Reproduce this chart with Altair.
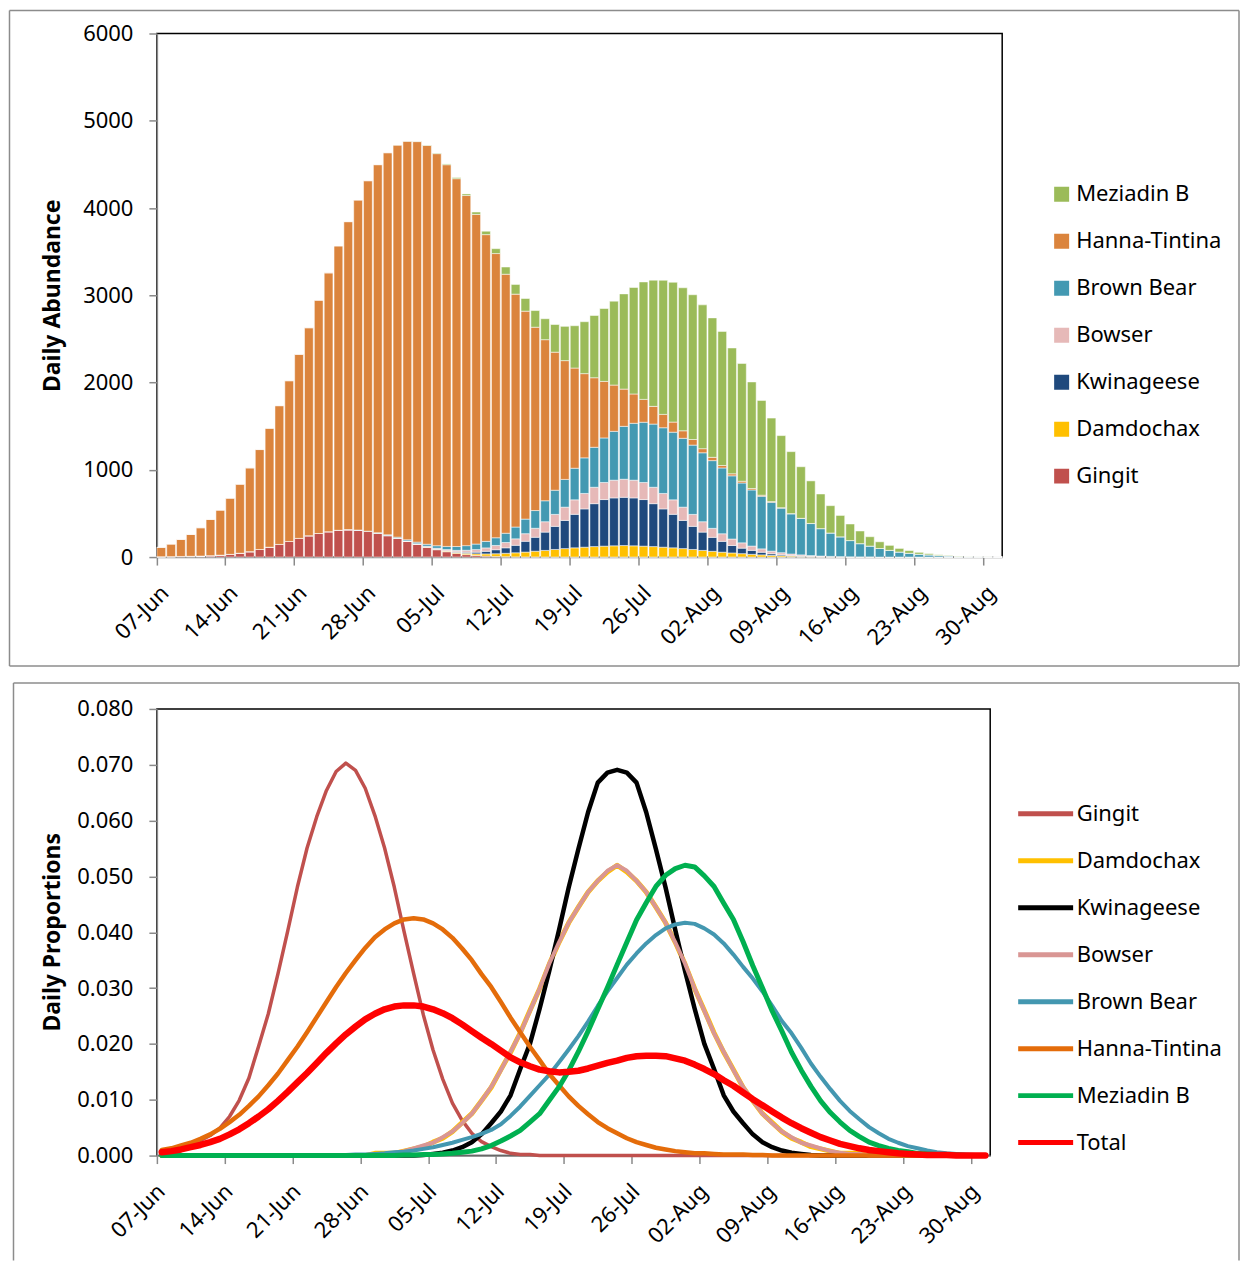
import json
import altair as alt
import pandas as pd

# ---------------- categories / tick labels ----------------
DAYS = list(range(86))  # day 0 = 07-Jun ... day 85 = 31-Aug
TICK_DAYS = [0, 7, 14, 21, 28, 35, 42, 49, 56, 63, 70, 77, 84]
TICK_LABELS = ["07-Jun", "14-Jun", "21-Jun", "28-Jun", "05-Jul", "12-Jul", "19-Jul",
               "26-Jul", "02-Aug", "09-Aug", "16-Aug", "23-Aug", "30-Aug"]

# ---------------- daily abundance (top chart) ----------------
GINGIT = [4, 5, 7, 9, 12, 16, 22, 31, 44, 62,
          87, 113, 145, 179, 214, 245, 270, 291, 306, 313,
          307, 293, 271, 245, 214, 179, 145, 112, 84, 61,
          42, 28, 18, 11, 7, 4, 2, 1, 1, 0,
          0, 0, 0, 0, 0, 0, 0, 0, 0, 0,
          0, 0, 0, 0, 0, 0, 0, 0, 0, 0,
          0, 0, 0, 0, 0, 0, 0, 0, 0, 0,
          0, 0, 0, 0, 0, 0, 0, 0, 0, 0,
          0, 0, 0, 0, 0, 0]
DAMDOCHAX = [0, 0, 0, 0, 0, 0, 0, 0, 0, 0,
             0, 0, 0, 0, 0, 0, 0, 0, 0, 0,
             0, 0, 1, 1, 1, 2, 3, 4, 6, 8,
             11, 15, 19, 25, 31, 39, 47, 56, 66, 76,
             87, 97, 106, 113, 120, 125, 129, 132, 129, 125,
             120, 113, 106, 97, 87, 76, 66, 56, 47, 39,
             31, 25, 19, 15, 11, 8, 6, 4, 3, 2,
             1, 1, 1, 0, 0, 0, 0, 0, 0, 0,
             0, 0, 0, 0, 0, 0]
KWINAGEESE = [0, 0, 0, 0, 0, 0, 0, 0, 0, 0,
              0, 0, 0, 0, 0, 0, 0, 0, 0, 0,
              0, 0, 0, 0, 0, 0, 0, 1, 2, 4,
              7, 12, 19, 30, 46, 63, 86, 124, 160, 210,
              265, 323, 384, 439, 492, 534, 549, 553, 549, 534,
              492, 439, 384, 323, 265, 210, 160, 124, 86, 63,
              46, 30, 19, 12, 7, 4, 2, 1, 0, 0,
              0, 0, 0, 0, 0, 0, 0, 0, 0, 0,
              0, 0, 0, 0, 0, 0]
BOWSER = [0, 0, 0, 0, 0, 0, 0, 0, 0, 0,
          0, 0, 0, 0, 0, 0, 0, 0, 0, 0,
          0, 0, 1, 1, 2, 3, 5, 7, 9, 13,
          17, 23, 30, 39, 49, 61, 74, 87, 103, 119,
          137, 152, 166, 177, 188, 196, 203, 207, 203, 196,
          188, 177, 166, 152, 137, 119, 103, 87, 74, 61,
          49, 39, 30, 23, 17, 13, 9, 7, 5, 3,
          2, 1, 1, 0, 0, 0, 0, 0, 0, 0,
          0, 0, 0, 0, 0, 0]
BROWN_BEAR = [0, 0, 0, 0, 0, 0, 0, 0, 0, 0,
              0, 0, 0, 0, 0, 0, 0, 0, 1, 2,
              3, 4, 6, 8, 11, 14, 18, 23, 29, 36,
              44, 53, 63, 75, 88, 106, 135, 167, 203, 240,
              277, 318, 362, 408, 458, 510, 560, 606, 652, 690,
              724, 753, 775, 789, 794, 790, 776, 754, 724, 686,
              643, 603, 560, 511, 460, 417, 367, 314, 268, 227,
              186, 152, 124, 98, 77, 58, 44, 33, 25, 17,
              12, 8, 6, 4, 2, 1]
HANNA_TINTINA = [107, 144, 195, 250, 324, 415, 516, 644, 791, 960,
                 1145, 1363, 1590, 1842, 2109, 2383, 2674, 2966, 3259, 3529,
                 3782, 4016, 4218, 4379, 4493, 4567, 4590, 4570, 4493, 4374,
                 4215, 4012, 3778, 3515, 3257, 2968, 2669, 2383, 2101, 1846,
                 1582, 1361, 1148, 965, 797, 648, 530, 427, 336, 262,
                 203, 153, 116, 86, 64, 47, 38, 28, 23, 20,
                 17, 12, 8, 5, 3, 2, 1, 0, 0, 0,
                 0, 0, 0, 0, 0, 0, 0, 0, 0, 0,
                 0, 0, 0, 0, 0, 0]
MEZIADIN_B = [0, 0, 0, 0, 0, 0, 0, 0, 0, 0,
              0, 0, 0, 0, 0, 0, 0, 0, 0, 0,
              0, 0, 0, 0, 1, 2, 3, 5, 7, 9,
              13, 18, 27, 39, 56, 83, 111, 145, 191, 240,
              317, 393, 485, 595, 713, 835, 961, 1091, 1220, 1346,
              1446, 1537, 1602, 1639, 1659, 1648, 1598, 1537, 1442, 1350,
              1221, 1086, 957, 826, 710, 591, 488, 397, 313, 245,
              190, 145, 107, 77, 57, 41, 30, 21, 14, 9,
              6, 4, 2, 1, 1, 0]

# ---------------- daily proportions (bottom chart) ----------------
P_GINGIT = [0.0009, 0.0011, 0.0016, 0.0020, 0.0027, 0.0036, 0.0049, 0.0070, 0.0099, 0.0139,
            0.0196, 0.0254, 0.0326, 0.0402, 0.0481, 0.0551, 0.0607, 0.0654, 0.0688, 0.0703,
            0.0690, 0.0658, 0.0609, 0.0551, 0.0481, 0.0402, 0.0326, 0.0252, 0.0189, 0.0137,
            0.0094, 0.0063, 0.0040, 0.0025, 0.0016, 0.0009, 0.0004, 0.0002, 0.0002, 0.0,
            0, 0, 0, 0, 0, 0, 0, 0, 0, 0,
            0, 0, 0, 0, 0, 0, 0, 0, 0, 0,
            0, 0, 0, 0, 0, 0, 0, 0, 0, 0,
            0, 0, 0, 0, 0, 0, 0, 0, 0, 0,
            0, 0, 0, 0, 0, 0]
P_DAMDOCHAX = [0, 0, 0, 0, 0, 0, 0, 0, 0, 0,
               0, 0, 0, 0, 0, 0, 0, 0, 0, 0,
               0, 0, 0.0004, 0.0004, 0.0004, 0.0008, 0.0012, 0.0016, 0.0024, 0.0031,
               0.0043, 0.0059, 0.0075, 0.0098, 0.0122, 0.0154, 0.0185, 0.0220, 0.0260, 0.0299,
               0.0343, 0.0382, 0.0417, 0.0445, 0.0472, 0.0492, 0.0508, 0.0520, 0.0508, 0.0492,
               0.0472, 0.0445, 0.0417, 0.0382, 0.0343, 0.0299, 0.0260, 0.0220, 0.0185, 0.0154,
               0.0122, 0.0098, 0.0075, 0.0059, 0.0043, 0.0031, 0.0024, 0.0016, 0.0012, 0.0008,
               0.0004, 0.0004, 0.0004, 0, 0, 0, 0, 0, 0, 0,
               0, 0, 0, 0, 0, 0]
P_KWINAGEESE = [0, 0, 0, 0, 0, 0, 0, 0, 0, 0,
                0, 0, 0, 0, 0, 0, 0, 0, 0, 0,
                0, 0, 0, 0, 0, 0, 0, 0.0001, 0.0003, 0.0005,
                0.0009, 0.0015, 0.0024, 0.0038, 0.0058, 0.0079, 0.0108, 0.0155, 0.0200, 0.0263,
                0.0331, 0.0404, 0.0480, 0.0549, 0.0615, 0.0668, 0.0686, 0.0691, 0.0686, 0.0668,
                0.0615, 0.0549, 0.0480, 0.0404, 0.0331, 0.0263, 0.0200, 0.0155, 0.0108, 0.0079,
                0.0058, 0.0038, 0.0024, 0.0015, 0.0009, 0.0005, 0.0003, 0.0001, 0, 0,
                0, 0, 0, 0, 0, 0, 0, 0, 0, 0,
                0, 0, 0, 0, 0, 0]
P_BOWSER = [0, 0, 0, 0, 0, 0, 0, 0, 0, 0,
            0, 0, 0, 0, 0, 0, 0, 0, 0, 0,
            0, 0, 0.0003, 0.0003, 0.0005, 0.0008, 0.0013, 0.0018, 0.0023, 0.0033,
            0.0043, 0.0058, 0.0075, 0.0098, 0.0123, 0.0153, 0.0186, 0.0219, 0.0259, 0.0299,
            0.0344, 0.0382, 0.0417, 0.0445, 0.0472, 0.0492, 0.0510, 0.0520, 0.0510, 0.0492,
            0.0472, 0.0445, 0.0417, 0.0382, 0.0344, 0.0299, 0.0259, 0.0219, 0.0186, 0.0153,
            0.0123, 0.0098, 0.0075, 0.0058, 0.0043, 0.0033, 0.0023, 0.0018, 0.0013, 0.0008,
            0.0005, 0.0003, 0.0003, 0, 0, 0, 0, 0, 0, 0,
            0, 0, 0, 0, 0, 0]
P_BROWN_BEAR = [0, 0, 0, 0, 0, 0, 0, 0, 0, 0,
                0, 0, 0, 0, 0, 0, 0, 0, 0.0001, 0.0001,
                0.0002, 0.0002, 0.0003, 0.0004, 0.0006, 0.0007, 0.0009, 0.0012, 0.0015, 0.0019,
                0.0023, 0.0028, 0.0033, 0.0039, 0.0046, 0.0056, 0.0071, 0.0088, 0.0107, 0.0126,
                0.0145, 0.0167, 0.0190, 0.0214, 0.0240, 0.0268, 0.0294, 0.0318, 0.0342, 0.0362,
                0.0380, 0.0395, 0.0407, 0.0414, 0.0417, 0.0415, 0.0407, 0.0396, 0.0380, 0.0360,
                0.0338, 0.0317, 0.0294, 0.0268, 0.0241, 0.0219, 0.0193, 0.0165, 0.0141, 0.0119,
                0.0098, 0.0080, 0.0065, 0.0051, 0.0040, 0.0030, 0.0023, 0.0017, 0.0013, 0.0009,
                0.0006, 0.0004, 0.0003, 0.0002, 0.0001, 0.0001]
P_HANNA_TINTINA = [0.0010, 0.0013, 0.0018, 0.0023, 0.0030, 0.0038, 0.0048, 0.0060, 0.0073, 0.0089,
                   0.0106, 0.0126, 0.0147, 0.0171, 0.0195, 0.0221, 0.0248, 0.0275, 0.0302, 0.0327,
                   0.0350, 0.0372, 0.0391, 0.0405, 0.0416, 0.0423, 0.0425, 0.0423, 0.0416, 0.0405,
                   0.0390, 0.0371, 0.0350, 0.0325, 0.0302, 0.0275, 0.0247, 0.0221, 0.0195, 0.0171,
                   0.0146, 0.0126, 0.0106, 0.0089, 0.0074, 0.0060, 0.0049, 0.0040, 0.0031, 0.0024,
                   0.0019, 0.0014, 0.0011, 0.0008, 0.0006, 0.0004, 0.0004, 0.0003, 0.0002, 0.0002,
                   0.0002, 0.0001, 0.0001, 0, 0, 0, 0, 0, 0, 0,
                   0, 0, 0, 0, 0, 0, 0, 0, 0, 0,
                   0, 0, 0, 0, 0, 0]
P_MEZIADIN_B = [0, 0, 0, 0, 0, 0, 0, 0, 0, 0,
                0, 0, 0, 0, 0, 0, 0, 0, 0, 0,
                0, 0, 0, 0, 0.0000, 0.0001, 0.0001, 0.0002, 0.0002, 0.0003,
                0.0004, 0.0006, 0.0008, 0.0012, 0.0018, 0.0026, 0.0035, 0.0045, 0.0060, 0.0075,
                0.0099, 0.0123, 0.0152, 0.0186, 0.0223, 0.0262, 0.0301, 0.0342, 0.0382, 0.0422,
                0.0453, 0.0482, 0.0502, 0.0514, 0.0520, 0.0517, 0.0501, 0.0482, 0.0452, 0.0423,
                0.0383, 0.0340, 0.0300, 0.0259, 0.0223, 0.0185, 0.0153, 0.0124, 0.0098, 0.0077,
                0.0060, 0.0045, 0.0034, 0.0024, 0.0018, 0.0013, 0.0009, 0.0007, 0.0004, 0.0003,
                0.0002, 0.0001, 0.0001, 0, 0, 0]
P_TOTAL = [0.0006, 0.0008, 0.0011, 0.0015, 0.0019, 0.0024, 0.0030, 0.0038, 0.0047, 0.0058,
           0.0070, 0.0083, 0.0098, 0.0114, 0.0131, 0.0148, 0.0166, 0.0184, 0.0201, 0.0217,
           0.0231, 0.0244, 0.0254, 0.0262, 0.0267, 0.0269, 0.0269, 0.0267, 0.0262, 0.0255,
           0.0246, 0.0235, 0.0223, 0.0211, 0.0200, 0.0188, 0.0176, 0.0167, 0.0160, 0.0154,
           0.0151, 0.0149, 0.0150, 0.0152, 0.0156, 0.0161, 0.0166, 0.0170, 0.0175, 0.0178,
           0.0179, 0.0179, 0.0178, 0.0174, 0.0170, 0.0163, 0.0155, 0.0146, 0.0135, 0.0125,
           0.0113, 0.0101, 0.0090, 0.0079, 0.0068, 0.0058, 0.0049, 0.0041, 0.0033, 0.0027,
           0.0021, 0.0017, 0.0013, 0.0010, 0.0008, 0.0006, 0.0004, 0.0003, 0.0002, 0.0001,
           0.0001, 0.0001, 0, 0, 0, 0]

# ---------------- series names / colours ----------------
STOCKS = ["Gingit", "Damdochax", "Kwinageese", "Bowser", "Brown Bear", "Hanna-Tintina", "Meziadin B"]
ABUNDANCE = [GINGIT, DAMDOCHAX, KWINAGEESE, BOWSER, BROWN_BEAR, HANNA_TINTINA, MEZIADIN_B]
TOP_ORDER = ["Meziadin B", "Hanna-Tintina", "Brown Bear", "Bowser", "Kwinageese", "Damdochax", "Gingit"]
TOP_COLORS = ["#9BBB59", "#DB843D", "#4399B2", "#E6B9B8", "#1F497D", "#FFC000", "#C0504D"]

LINE_SERIES = ["Gingit", "Damdochax", "Kwinageese", "Bowser", "Brown Bear", "Hanna-Tintina", "Meziadin B", "Total"]
PROPORTIONS = [P_GINGIT, P_DAMDOCHAX, P_KWINAGEESE, P_BOWSER, P_BROWN_BEAR, P_HANNA_TINTINA, P_MEZIADIN_B, P_TOTAL]
LINE_COLORS = ["#C0504D", "#FFC000", "#000000", "#D99694", "#4397B0", "#E46C0A", "#00B050", "#FF0000"]
LINE_WIDTHS = [3.5, 5, 4.5, 4, 4, 4.5, 5, 6.5]

FONT = "Noto Sans"
BORDER = "#8C8C8C"
LABEL_EXPR = json.dumps(TICK_LABELS) + "[round(datum.value / 7)]"

top_df = pd.DataFrame([
    {"day": d, "stock": s, "abundance": v, "stack_rank": i}
    for i, (s, vals) in enumerate(zip(STOCKS, ABUNDANCE))
    for d, v in zip(DAYS, vals)
])
bot_df = pd.DataFrame([
    {"day": d, "series": s, "prop": v}
    for s, vals in zip(LINE_SERIES, PROPORTIONS)
    for d, v in zip(DAYS, vals)
])
one = pd.DataFrame({"k": [0]})


def vrule(x, y1, y2):
    return alt.Chart(one).mark_rule(color=BORDER, strokeWidth=1.5).encode(
        x=alt.value(x), y=alt.value(y1), y2=alt.value(y2))


def hrule(x1, x2, y):
    return alt.Chart(one).mark_rule(color=BORDER, strokeWidth=1.5).encode(
        x=alt.value(x1), x2=alt.value(x2), y=alt.value(y))


x_axis_common = dict(values=TICK_DAYS, labelExpr=LABEL_EXPR, labelAngle=-45, labelAlign="right",
                     labelBaseline="middle", labelPadding=24, labelOffset=4,
                     labelOverlap=False, labelFlush=False, tickSize=8)

# ---------------- top: stacked bars ----------------
bars = alt.Chart(top_df).mark_bar(stroke="#FFFFFF", strokeWidth=0.6, strokeOpacity=0.85).encode(
    x=alt.X("day:O", title=None,
            scale=alt.Scale(paddingInner=0.11, paddingOuter=0),
            axis=alt.Axis(bandPosition=0, **x_axis_common)),
    y=alt.Y("abundance:Q", stack="zero",
            scale=alt.Scale(domain=[0, 6000], nice=False),
            axis=alt.Axis(values=[0, 1000, 2000, 3000, 4000, 5000, 6000], format="d",
                          title="Daily Abundance", titleX=-104, titleY=262,
                          titleAlign="center", titleBaseline="middle",
                          labelPadding=16, tickSize=8)),
    color=alt.Color("stock:N", scale=alt.Scale(domain=TOP_ORDER, range=TOP_COLORS),
                    legend=alt.Legend(title=None, orient="none", legendX=894.5, legendY=150,
                                      symbolType="square", symbolSize=225, symbolStrokeWidth=0,
                                      labelOffset=3.5, rowPadding=25, padding=0, clipHeight=22,
                                      labelLimit=400)),
    order=alt.Order("stack_rank:Q", sort="ascending"),
)

top = alt.layer(
    bars,
    vrule(-147.5, -23, 633), vrule(1083, -23, 633),
    hrule(-147.5, 1083, -23), hrule(-147.5, 1083, 633),
).properties(width=846, height=524)

# ---------------- bottom: proportion lines ----------------
base = alt.Chart(bot_df).transform_calculate(xmid="datum.day + 0.5").encode(
    x=alt.X("xmid:Q", title=None,
            scale=alt.Scale(domain=[0, 86], nice=False, zero=False),
            axis=alt.Axis(**x_axis_common)),
    y=alt.Y("prop:Q", scale=alt.Scale(domain=[0, 0.08], nice=False),
            axis=alt.Axis(values=[0, 0.01, 0.02, 0.03, 0.04, 0.05, 0.06, 0.07, 0.08], format=".3f",
                          title="Daily Proportions", titleX=-104, titleY=223,
                          titleAlign="center", titleBaseline="middle",
                          labelPadding=16, tickSize=8)),
    color=alt.Color("series:N", scale=alt.Scale(domain=LINE_SERIES, range=LINE_COLORS),
                    legend=alt.Legend(title=None, orient="none", legendX=859.5, legendY=94,
                                      symbolType="stroke", symbolSize=3025, symbolStrokeWidth=5,
                                      labelOffset=1, rowPadding=25, padding=0, clipHeight=22,
                                      labelLimit=400)),
)

line_layers = [
    base.transform_filter(alt.datum.series == s).mark_line(
        strokeWidth=w, strokeCap="round", strokeJoin="round")
    for s, w in zip(LINE_SERIES, LINE_WIDTHS)
]

bottom = alt.layer(
    *line_layers,
    vrule(-143.5, -26, 552), vrule(1083, -26, 552),
    hrule(-143.5, 1083, -26),
).properties(width=834, height=447)

chart = alt.vconcat(top, bottom, spacing=152, bounds="flush").resolve_scale(
    color="independent", x="independent", y="independent"
).properties(
    padding=0, background="white"
).configure(
    font=FONT
).configure_view(
    stroke="#000000", strokeWidth=1.5
).configure_axis(
    labelFont=FONT, labelFontSize=22, labelColor="#000000",
    titleFont=FONT, titleFontSize=23, titleFontWeight="bold", titleColor="#000000",
    domainColor="#8A8A8A", domainWidth=1.5, tickColor="#8A8A8A", tickWidth=1.5, grid=False
).configure_legend(
    labelFont=FONT, labelFontSize=22, labelColor="#000000"
)

chart.save("out.html", embed_options={"renderer": "svg", "actions": False})
